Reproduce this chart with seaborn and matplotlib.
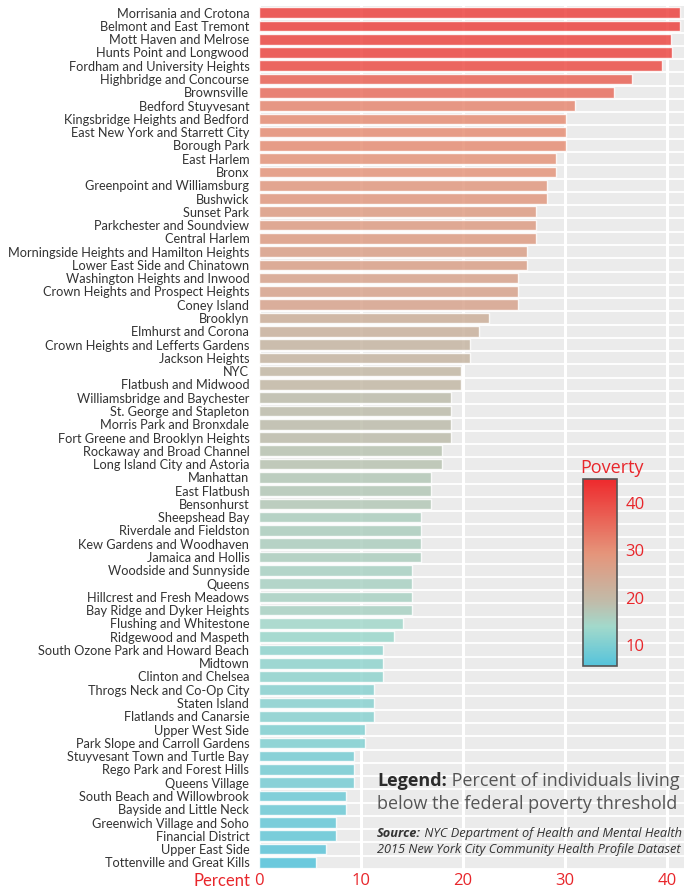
"""
Poverty by NYC neighborhood, horizontal bar chart with a colour scale.
"""

import numpy as np
import pandas as pd
import matplotlib
matplotlib.use("Agg")
import matplotlib.pyplot as plt
import seaborn as sns
from matplotlib.colors import LinearSegmentedColormap, Normalize
from matplotlib.cm import ScalarMappable

# data, top to bottom as in the chart
neighborhoods = [
    "Morrisania and Crotona", "Belmont and East Tremont", "Mott Haven and Melrose",
    "Hunts Point and Longwood", "Fordham and University Heights", "Highbridge and Concourse",
    "Brownsville", "Bedford Stuyvesant", "Kingsbridge Heights and Bedford",
    "East New York and Starrett City", "Borough Park", "East Harlem", "Bronx",
    "Greenpoint and Williamsburg", "Bushwick", "Sunset Park", "Parkchester and Soundview",
    "Central Harlem", "Morningside Heights and Hamilton Heights", "Lower East Side and Chinatown",
    "Washington Heights and Inwood", "Crown Heights and Prospect Heights", "Coney Island",
    "Brooklyn", "Elmhurst and Corona", "Crown Heights and Lefferts Gardens", "Jackson Heights",
    "NYC", "Flatbush and Midwood", "Williamsbridge and Baychester", "St. George and Stapleton",
    "Morris Park and Bronxdale", "Fort Greene and Brooklyn Heights", "Rockaway and Broad Channel",
    "Long Island City and Astoria", "Manhattan", "East Flatbush", "Bensonhurst",
    "Sheepshead Bay", "Riverdale and Fieldston", "Kew Gardens and Woodhaven", "Jamaica and Hollis",
    "Woodside and Sunnyside", "Queens", "Hillcrest and Fresh Meadows", "Bay Ridge and Dyker Heights",
    "Flushing and Whitestone", "Ridgewood and Maspeth", "South Ozone Park and Howard Beach",
    "Midtown", "Clinton and Chelsea", "Throgs Neck and Co-Op City", "Staten Island",
    "Flatlands and Canarsie", "Upper West Side", "Park Slope and Carroll Gardens",
    "Stuyvesant Town and Turtle Bay", "Rego Park and Forest Hills", "Queens Village",
    "South Beach and Willowbrook", "Bayside and Little Neck", "Greenwich Village and Soho",
    "Financial District", "Upper East Side", "Tottenville and Great Kills",
]
poverty = [
    41.3, 41.3, 40.4, 40.5, 39.5, 36.6,
    34.8, 31.0, 30.1,
    30.1, 30.1, 29.1, 29.1,
    28.2, 28.2, 27.2, 27.2,
    27.2, 26.3, 26.3,
    25.4, 25.4, 25.4,
    22.5, 21.6, 20.7, 20.7,
    19.8, 19.8, 18.8, 18.8,
    18.8, 18.8, 17.9,
    17.9, 16.9, 16.9, 16.9,
    15.9, 15.9, 15.9, 15.9,
    15.0, 15.0, 15.0, 15.0,
    14.1, 13.2, 12.2,
    12.2, 12.2, 11.3, 11.3,
    11.3, 10.4, 10.4,
    9.3, 9.3, 9.3,
    8.5, 8.5, 7.5,
    7.5, 6.6, 5.6,
]

x_ticks = [0, 10, 20, 30, 40]
bar_ticks = [10, 20, 30, 40]

RED = "#E8262B"
PANEL = "#EBEBEB"
OS = ["Open Sans", "DejaVu Sans"]
LATO = ["Lato", "DejaVu Sans"]

sns.set_theme(style="darkgrid", rc={"axes.facecolor": PANEL, "grid.color": "white"})
plt.rcParams["font.family"] = LATO

cmap = LinearSegmentedColormap.from_list(
    "poverty",
    [(0.0, "#55C3DB"), (0.21, "#A2D9CB"), (0.34, "#C0BCAA"),
     (0.60, "#E5957B"), (1.0, "#EE2A2D")],
)
norm = Normalize(5.6, 45)

df = pd.DataFrame({"area": neighborhoods, "pct": poverty})
palette = {a: cmap(norm(v)) for a, v in zip(neighborhoods, poverty)}

fig = plt.figure(figsize=(6.84, 8.90), dpi=100)
ax = fig.add_axes([259 / 684, 1 - 869 / 890, 1 - 259 / 684, 863 / 890])

sns.barplot(data=df, x="pct", y="area", hue="area", palette=palette, legend=False,
            saturation=1, width=0.8, alpha=0.85, ax=ax, zorder=3)

ax.set_xlim(0, 41.66)
ax.set_ylim(len(neighborhoods) - 0.5, -0.5)
ax.set_xticks(x_ticks)
ax.set_yticks(np.arange(len(neighborhoods)) + 0.5, minor=True)
ax.set_xlabel("")
ax.set_ylabel("")
ax.grid(axis="x", which="major", color="white", lw=2.2, zorder=0)
ax.grid(axis="y", which="major", visible=False)
ax.grid(axis="y", which="minor", color="white", lw=1.3, zorder=0)
ax.set_axisbelow(True)
for s in ax.spines.values():
    s.set_visible(False)

ax.tick_params(axis="y", which="both", length=0, pad=7, labelsize=9.2, labelcolor="#333333")
ax.tick_params(axis="x", length=0, pad=3, labelsize=12, labelcolor=RED)
for lab in ax.get_xticklabels():
    lab.set_family(OS)

ax.annotate("Percent", xy=(0, 0), xycoords=("data", "axes fraction"),
            xytext=(-6, -3), textcoords="offset points", ha="right", va="top",
            color=RED, fontsize=12)

# colour bar
cax = fig.add_axes([583 / 684, 1 - 666 / 890, 34 / 684, 187 / 890])
cb = fig.colorbar(ScalarMappable(norm=norm, cmap=cmap), cax=cax)
cb.set_ticks(bar_ticks)
cb.outline.set_edgecolor("#555555")
cb.outline.set_linewidth(1.2)
cax.tick_params(left=True, right=True, direction="in", length=4, width=1.3,
                color="white", labelsize=12, labelcolor=RED, pad=6)
for lab in cax.get_yticklabels():
    lab.set_family(OS)
cax.set_title("Poverty", loc="left", color=RED, fontsize=13, pad=4, family=OS, x=-0.07)

# legend / source notes
x0 = 377 / 684
t1 = fig.text(x0, 1 - 786 / 890, "Legend:", weight="bold", color="#2b2b2b",
              fontsize=13, family=OS, va="baseline")
ax.annotate(" Percent of individuals living", xy=(1, 0), xycoords=t1, va="bottom",
            color="#555555", fontsize=13, family=OS)
fig.text(x0, 1 - 809 / 890, "below the federal poverty threshold", color="#555555",
         fontsize=13, family=OS, va="baseline")
s1 = fig.text(x0, 1 - 837 / 890, "Source:", weight="bold", style="italic", color="#333333",
              fontsize=9.2, family=OS, va="baseline")
ax.annotate(" NYC Department of Health and Mental Health", xy=(1, 0), xycoords=s1,
            va="bottom", style="italic", color="#333333", fontsize=9.2, family=OS)
fig.text(x0, 1 - 853 / 890, "2015 New York City Community Health Profile Dataset",
         style="italic", color="#333333", fontsize=9.2, family=OS, va="baseline")

fig.savefig("out.png", dpi=100, facecolor="white")
